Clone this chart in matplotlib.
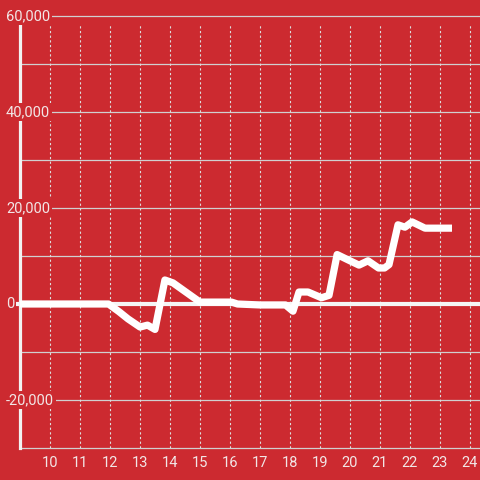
import matplotlib
matplotlib.use("Agg")
import matplotlib.pyplot as plt

# data
x_vals = [9.0, 11.95, 12.3, 12.6, 13.0, 13.25, 13.5, 13.83, 14.1, 15.0, 16.05, 16.25,
          17.0, 17.85, 18.1, 18.3, 18.6, 19.05, 19.3, 19.57, 19.9, 20.3, 20.6, 20.95,
          21.15, 21.3, 21.6, 21.83, 22.07, 22.5, 23.4]
y_vals = [0, 0, -1600, -3100, -4800, -4400, -5300, 5000, 4400, 400, 400, 0,
          -200, -200, -1500, 2500, 2500, 1300, 1800, 10300, 9300, 8100, 9000, 7500,
          7500, 8200, 16500, 16000, 17100, 15800, 15800]
x_ticks = list(range(10, 25))
y_grid = [60000, 50000, 40000, 30000, 20000, 10000, 0, -10000, -20000, -30000]
y_labels = [60000, 40000, 20000, 0, -20000]

BG = '#cc2a30'
TXT = '#f2e6e6'
plt.rcParams['font.family'] = ['Roboto', 'DejaVu Sans']

fig = plt.figure(figsize=(4.8, 4.8), dpi=100, facecolor=BG)
ax = fig.add_axes([20/480, 32/480, 460/480, 424/480])
ax.set_facecolor(BG)
ax.set_xlim(9, 9 + 460/30)
ax.set_ylim(-30000, 60000 - 8/96*20000)

for s in ['top', 'right', 'bottom']:
    ax.spines[s].set_visible(False)
ax.spines['left'].set_color('#f2f2f2')
ax.spines['left'].set_linewidth(2.3)

# vertical dotted grid
ax.set_xticks(x_ticks)
ax.xaxis.grid(True, color='#dddddd', linestyle=(0, (2, 2.2)), linewidth=0.8)
ax.set_axisbelow(True)
ax.tick_params(axis='x', length=0, pad=6, labelsize=10.5, labelcolor=TXT)
ax.set_yticks([])

# horizontal grid
for v in y_grid:
    if v == 0:
        continue
    ax.axhline(v, color='#d0d0d0', linewidth=0.9, clip_on=False, zorder=0.5)
ax.axhline(0, xmin=-3/460, xmax=1, color='#f5f5f5', linewidth=3.0, clip_on=False, zorder=2)

# y labels
ytr = ax.get_yaxis_transform()
for v in y_labels:
    ax.text(-14/460, v, f"{v:,}", transform=ytr, ha='left', va='center',
            fontsize=10.5, color=TXT, zorder=5,
            bbox=dict(facecolor=BG, edgecolor='none', pad=1.5))

ax.plot(x_vals, y_vals, color='white', linewidth=5.2, solid_capstyle='butt',
        solid_joinstyle='round', zorder=3, clip_on=False)

fig.savefig('out.png', dpi=100, facecolor=BG)
